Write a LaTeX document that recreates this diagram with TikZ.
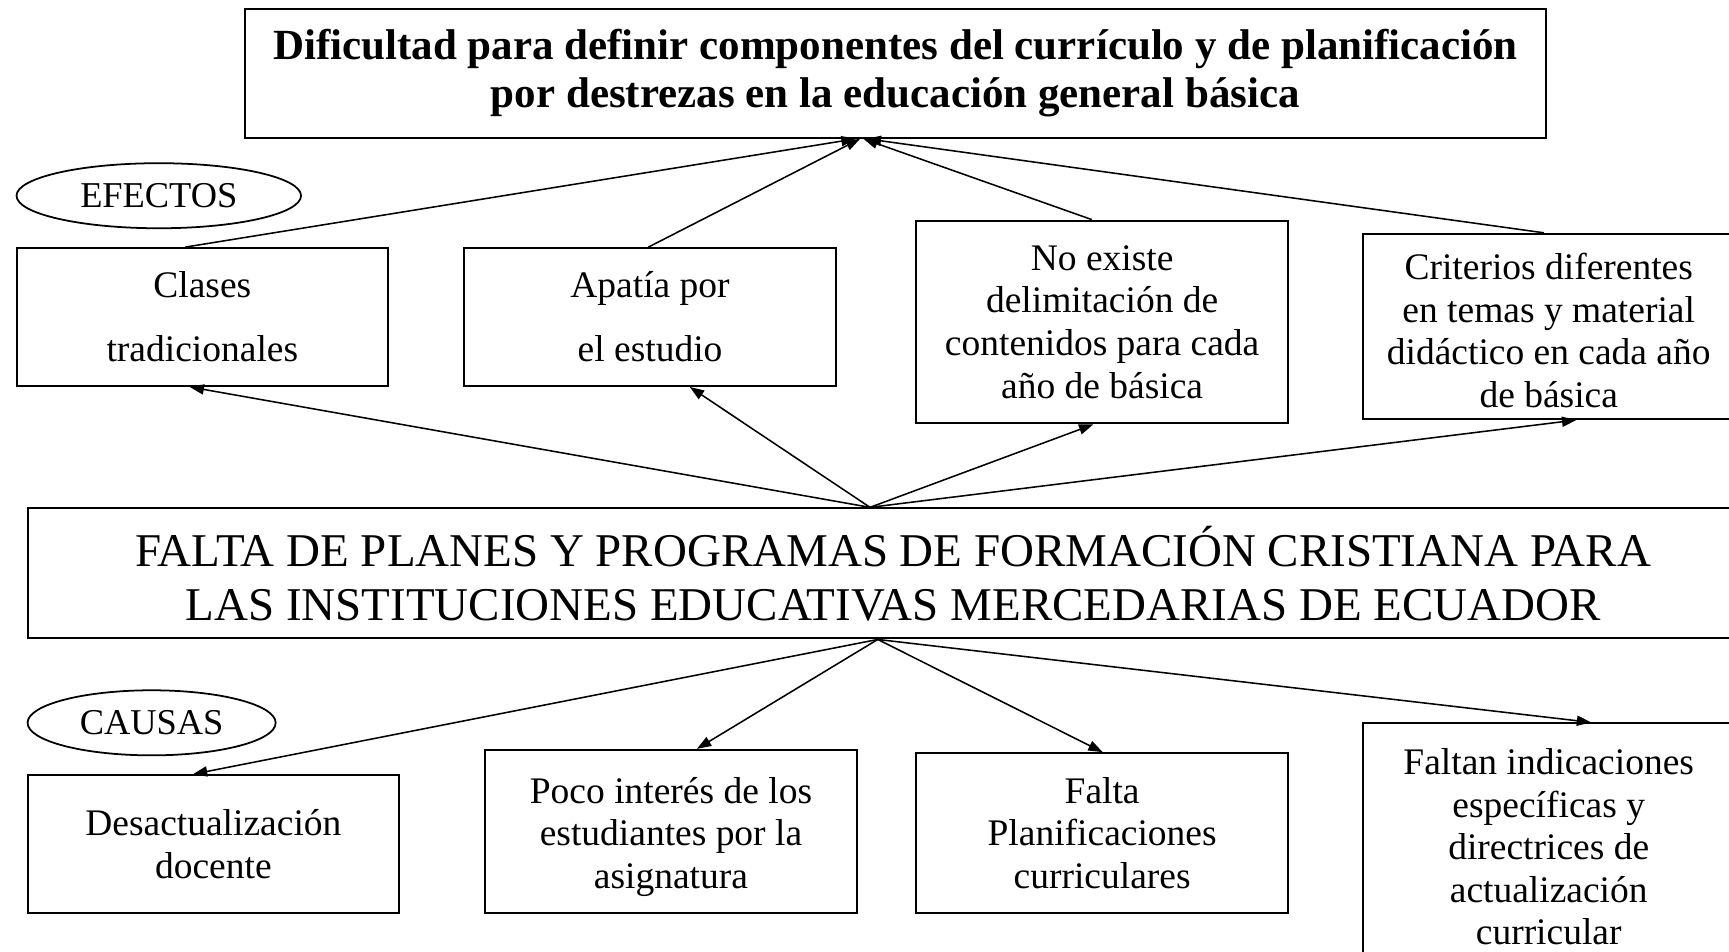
\documentclass[tikz,border=0pt]{standalone}
\usepackage{fontspec}
\setmainfont{Liberation Serif}
\usetikzlibrary{arrows.meta,shapes.geometric}
\begin{document}
\begin{tikzpicture}[x=0.5pt,y=-0.5pt,
  box/.style={draw,line width=0.9pt,rectangle,inner sep=0pt,align=center,minimum width=168.5pt},
  smalltext/.style={font=\fontsize{17}{19.3}\selectfont},
  widetext/.style={font=\fontsize{17}{29}\selectfont},
  oval/.style={draw,line width=0.8pt,ellipse,inner sep=0pt,minimum height=29.5pt,font=\fontsize{16.5}{19}\selectfont},
  arr/.style={line width=0.7pt,-{Triangle[length=6.5pt,width=4.6pt]}}]
\useasboundingbox (0,0) rectangle (1568,863);

% problem / effect top
\node[box,minimum width=590pt,minimum height=58.5pt,font=\bfseries\fontsize{19.5}{21.6}\selectfont] (top) at (812,66.5)
  {Dificultad para definir componentes del currículo y de planificación\\por destrezas en la educación general básica};

\node[oval,minimum width=129pt] (efectos) at (144,177.5) {EFECTOS};
\node[oval,minimum width=112.5pt] (causas) at (137.5,655.5) {CAUSAS};

% effects
\node[box,widetext,minimum height=62.5pt] (clases) at (183.5,287.5) {Clases\\tradicionales};
\node[box,widetext,minimum height=62.5pt] (apatia) at (589.5,287.5) {Apatía por\\el estudio};
\node[box,smalltext,minimum height=92pt] (noexiste) at (999.5,292) {No existe\\delimitación de\\contenidos para cada\\año de básica};
\node[box,smalltext,minimum height=84pt] (criterios) at (1404.5,296) {\rule{0pt}{15.6pt}Criterios diferentes\\en temas y material\\didáctico en cada año\\de básica};

% central problem
\node[box,minimum width=785pt,minimum height=59pt,font=\fontsize{21.3}{24.5}\selectfont] (main) at (810,520)
  {FALTA DE PLANES Y PROGRAMAS DE FORMACIÓN CRISTIANA PARA\\LAS INSTITUCIONES EDUCATIVAS MERCEDARIAS DE ECUADOR};

% causes
\node[box,smalltext,minimum height=62.5pt] (desact) at (193.5,765.5) {Desactualización\\docente};
\node[box,smalltext,minimum height=74pt] (poco) at (608.5,754) {\rule{0pt}{16.5pt}Poco interés de los\\estudiantes por la\\asignatura};
\node[box,smalltext,minimum height=72.5pt] (falta) at (999.5,755.5) {Falta\\Planificaciones\\curriculares};
\node[box,smalltext,minimum height=112pt] (faltan) at (1404.5,768) {Faltan indicaciones\\específicas y\\directrices de\\actualización\\curricular};

% connector origins
\coordinate (mup) at ([xshift=-10.5pt]main.north);
\coordinate (mdown) at ([xshift=-7pt]main.south);

% effects -> top
\draw[arr] ([xshift=-7.75pt]clases.north) -- ([xshift=-18pt]top.south);
\draw[arr] ([xshift=-0.75pt]apatia.north) -- ([xshift=-16pt]top.south);
\draw[arr] ([xshift=-4.75pt]noexiste.north) -- ([xshift=-14.5pt]top.south);
\draw[arr] ([xshift=-2.25pt]criterios.north) -- ([xshift=-13pt]top.south);

% main -> effects
\draw[arr] (mup) -- ([xshift=-5.75pt]clases.south);
\draw[arr] (mup) -- ([xshift=18pt]apatia.south);
\draw[arr] (mup) -- ([xshift=-4pt]noexiste.south);
\draw[arr] (mup) -- ([xshift=12.5pt]criterios.south);

% main -> causes
\draw[arr] (mdown) -- ([xshift=-9.25pt]desact.north);
\draw[arr] (mdown) -- ([xshift=11.75pt]poco.north);
\draw[arr] (mdown) -- ([xshift=0.25pt]falta.north);
\draw[arr] (mdown) -- ([xshift=19.25pt]faltan.north);
\end{tikzpicture}
\end{document}
